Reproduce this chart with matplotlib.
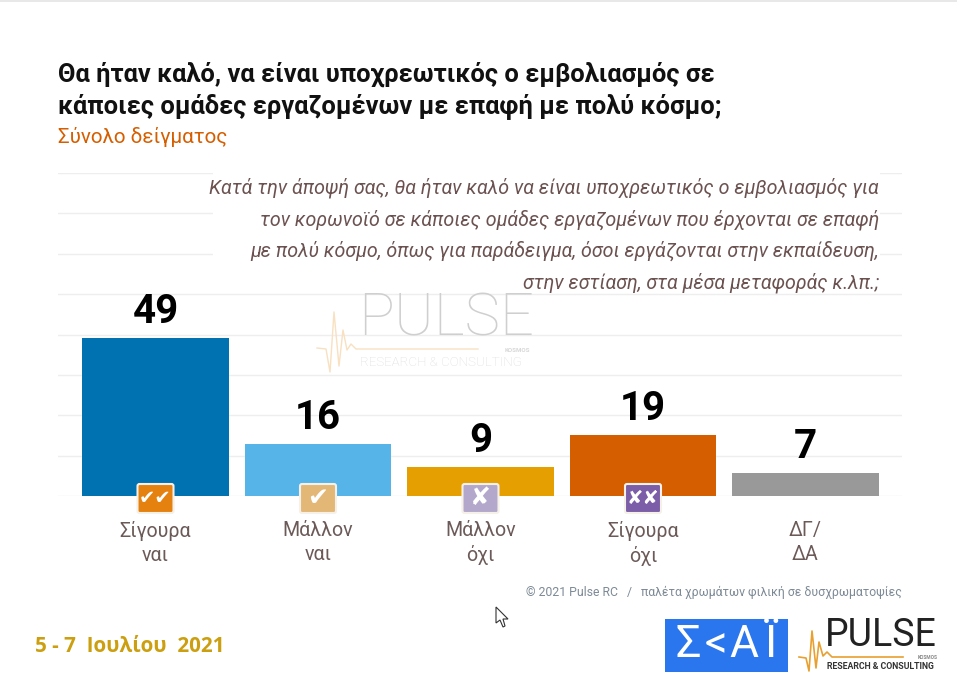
import numpy as np
import matplotlib
matplotlib.use('Agg')
import matplotlib.pyplot as plt
from matplotlib.patches import FancyBboxPatch, Rectangle, Polygon

categories = ['Σίγουρα\nναι', 'Μάλλον\nναι', 'Μάλλον\nόχι', 'Σίγουρα\nόχι', 'ΔΓ/\nΔΑ']
values = [49, 16, 9, 19, 7]
bar_colors = ['#0072b2', '#56b4e9', '#e69f00', '#d55e00', '#999999']
icon_marks = ['✔✔', '✔', '✘', '✘✘']
icon_colors = ['#e5820f', '#e3b877', '#b3a8cc', '#7b5ea7']
grid_ticks = np.arange(0, 101, 12.5)

plt.rcParams['font.family'] = ['Roboto', 'DejaVu Sans']

fig = plt.figure(figsize=(9.57, 6.86), dpi=100, facecolor='white')

# bar area, placed to match the pixel box 58-902 / 173-496
ax = fig.add_axes([58 / 957, 1 - 496 / 686, 844 / 957, 323 / 686])
x = np.arange(len(values))
ax.set_axisbelow(True)
ax.bar(x, values, width=0.9, color=bar_colors, zorder=3)
for xi, v in zip(x, values):
    ax.text(xi, v + 2.2, str(v), ha='center', va='bottom', fontsize=29,
            fontweight='bold', color='black', zorder=5)
ax.set_xlim(-0.6, 4.594)
ax.set_ylim(0, 100)
ax.set_yticks(grid_ticks)
ax.set_yticklabels([])
ax.set_xticks(x)
ax.set_xticklabels(categories, fontsize=14.1, color='#6b5a58', linespacing=1.33)
ax.tick_params(length=0)
ax.tick_params(axis='x', pad=18)
ax.grid(axis='y', color='#eeeeee', lw=1)
ax.grid(axis='x', visible=False)
for s in ax.spines.values():
    s.set_visible(False)
ax.patch.set_alpha(0)

# overlay in pixel coordinates for text, icons and logos
ov = fig.add_axes([0, 0, 1, 1], zorder=10)
ov.set_xlim(0, 957)
ov.set_ylim(686, 0)
ov.axis('off')
ov.patch.set_alpha(0)

ov.add_patch(Rectangle((0, 0), 957, 2, color='#e8e8e8', lw=0))

ov.text(58, 74, 'Θα ήταν καλό, να είναι υποχρεωτικός ο εμβολιασμός σε', fontsize=18.4,
        fontweight='bold', color='#111111', va='center')
ov.text(58, 106, 'κάποιες ομάδες εργαζομένων με επαφή με πολύ κόσμο;', fontsize=18.4,
        fontweight='bold', color='#111111', va='center')
ov.text(58, 137, 'Σύνολο δείγματος', fontsize=14.9, color='#d55e00', va='center')

# the question box hides the gridlines behind it
ov.add_patch(Rectangle((213, 171), 667, 121, color='white', lw=0))
question = ['Κατά την άποψή σας, θα ήταν καλό να είναι υποχρεωτικός ο εμβολιασμός για',
            'τον κορωνοϊό σε κάποιες ομάδες εργαζομένων που έρχονται σε επαφή',
            'με πολύ κόσμο, όπως για παράδειγμα, όσοι εργάζονται στην εκπαίδευση,',
            'στην εστίαση, στα μέσα μεταφοράς κ.λπ.;']
for yy, line in zip([188, 220, 251, 283], question):
    ov.text(879, yy, line, fontsize=14.1, style='italic', color='#6b5250',
            ha='right', va='center')

# watermark
ov.text(358, 319, 'PULSE', fontsize=43, color='#cfcfcf', va='center', fontweight='light')
ov.text(360, 362, 'RESEARCH & CONSULTING', fontsize=9.6, color='#dddddd', va='center',
        fontweight='light')
ov.text(530, 350.5, 'KOSMOS', fontsize=4.5, color='#d8d8d8', ha='right', va='center', fontweight='bold')
ov.plot([317, 326, 330, 334, 339, 343, 347, 351, 356, 478],
        [348, 349, 372, 312, 366, 330, 350, 344, 349, 349],
        color='#f8e0c0', lw=1)

# answer icons on the baseline
for xi, mark, c in zip(x, icon_marks, icon_colors):
    cx = 155.5 + 162.5 * xi
    ov.add_patch(FancyBboxPatch((cx - 18, 484), 36, 29, boxstyle='round,pad=0,rounding_size=2',
                                fc=c, ec='#f5f0e8', lw=1.5))
    ov.text(cx, 498, mark, fontsize=14 if len(mark) == 2 else 18, fontweight='bold', color='white',
            ha='center', va='center', family=['DejaVu Sans'])

ov.text(902, 592, '© 2021 Pulse RC   /   παλέτα χρωμάτων φιλική σε δυσχρωματοψίες', fontsize=8.87,
        color='#7d8a96', ha='right', va='center')
ov.text(35, 646, '5 - 7  Ιουλίου  2021', fontsize=14.9, fontweight='bold', color='#cc9f10',
        va='center', family=['Open Sans', 'DejaVu Sans'])

# SKAI logo
ov.add_patch(Rectangle((665, 619), 123, 53, color='#2a76ee', lw=0))
for lx, letter in zip([688, 716, 744, 771], ['Σ', '<', 'Α', 'Ϊ']):
    ov.text(lx, 645, letter, fontsize=32, color='white', ha='center', va='center')

# Pulse logo
ov.text(825, 635, 'PULSE', fontsize=27, color='#222222', va='center')
ov.text(827, 666.5, 'RESEARCH & CONSULTING', fontsize=6.3, color='#333333', va='center',
        fontweight='bold')
ov.text(938, 657.5, 'KOSMOS', fontsize=3.5, color='#888888', ha='right', va='center', fontweight='bold')
ov.plot([799, 806, 809, 812, 816, 819, 823, 827, 832, 903],
        [657, 658, 671, 631, 668, 642, 656, 652, 657, 657],
        color='#e8a030', lw=1.2)

# mouse cursor
ov.add_patch(Polygon([(496, 607), (496, 623), (500, 620), (503, 627), (505, 626),
                      (503, 619), (508, 619)], closed=True, fc='white', ec='#333333', lw=0.8))

fig.savefig('out.png', dpi=100)
